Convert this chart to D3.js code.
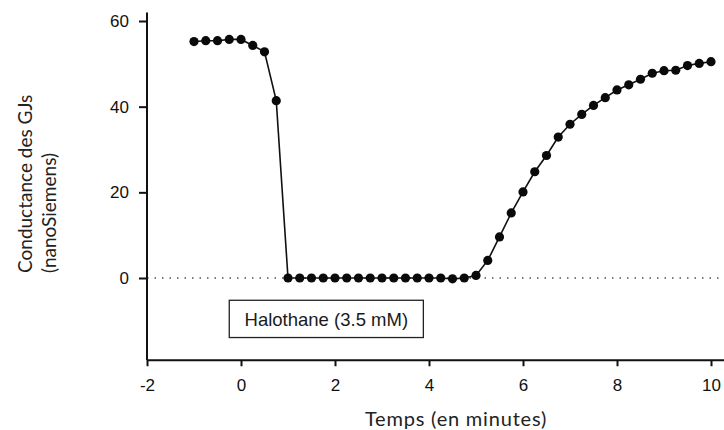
<!DOCTYPE html>
<html>
<head>
<meta charset="utf-8">
<script src="https://cdn.jsdelivr.net/npm/d3@7"></script>
<style>
  body { margin: 0; background: #fff; }
  svg { display: block; }
</style>
</head>
<body>
<script>
const width = 724;
const height = 430;

// temps en minutes, pas de 0.25 min
const times = d3.range(45).map(i => -1 + i * 0.25);
// conductance (nS)
const conductance = [
  55.2, 55.4, 55.4, 55.7, 55.7, 54.3, 52.8, 41.4,
  0, 0, 0, 0, 0, 0, 0, 0, 0, 0, 0, 0, 0, 0, -0.2, 0,
  0.6, 4.1, 9.6, 15.2, 20.1, 24.8, 28.6, 32.9, 35.9, 38.2, 40.3,
  42.1, 43.9, 45.1, 46.4, 47.8, 48.4, 48.5, 49.6, 50.1, 50.5
];
const xTicks = [-2, 0, 2, 4, 6, 8, 10];
const yTicks = [0, 20, 40, 60];
const drugLabel = "Halothane (3.5 mM)";
const drugBox = [-0.25, 3.88, -5.2, -13.9]; // x0, x1, y0, y1 (unités des données)

const svg = d3.select("body").append("svg")
  .attr("width", width)
  .attr("height", height);

const x = d3.scaleLinear().domain([-2, 10]).range([147, 711]);
const y = d3.scaleLinear().domain([0, 60]).range([278, 21]);

// ligne pointillée à zéro
svg.append("line")
  .attr("x1", x(-2)).attr("x2", width)
  .attr("y1", y(0)).attr("y2", y(0))
  .attr("stroke", "#555")
  .attr("stroke-width", 1.3)
  .attr("stroke-dasharray", "1.5,6");

// axe x
const xAxis = svg.append("g")
  .attr("transform", `translate(0, ${y(-19.2)})`)
  .call(d3.axisBottom(x).tickValues(xTicks).tickSize(6).tickPadding(13).tickFormat(d => String(d)));
xAxis.select(".domain").attr("d", `M${x(-2)},0H${width}`).attr("stroke", "#111").attr("stroke-width", 2);

// axe y
const yAxis = svg.append("g")
  .attr("transform", `translate(${x(-2)}, 0)`)
  .call(d3.axisLeft(y).tickValues(yTicks).tickSize(8).tickPadding(10));
yAxis.select(".domain").attr("d", `M0,${y(62)}V${y(-19.2)}`).attr("stroke", "#111").attr("stroke-width", 2);

svg.selectAll(".tick line").attr("stroke", "#111").attr("stroke-width", 2);
svg.selectAll(".tick text")
  .attr("font-family", "Liberation Sans, Arial, sans-serif")
  .attr("font-size", 17)
  .attr("fill", "#111");

// courbe
const line = d3.line()
  .x((d, i) => x(times[i]))
  .y(d => y(d));

svg.append("path")
  .datum(conductance)
  .attr("fill", "none")
  .attr("stroke", "#111")
  .attr("stroke-width", 1.6)
  .attr("d", line);

svg.selectAll("circle")
  .data(conductance)
  .join("circle")
  .attr("cx", (d, i) => x(times[i]))
  .attr("cy", d => y(d))
  .attr("r", 4.6)
  .attr("fill", "#0a0a0a");

// boîte halothane
svg.append("rect")
  .attr("x", x(drugBox[0]))
  .attr("y", y(drugBox[2]))
  .attr("width", x(drugBox[1]) - x(drugBox[0]))
  .attr("height", y(drugBox[3]) - y(drugBox[2]))
  .attr("fill", "#fff")
  .attr("stroke", "#222")
  .attr("stroke-width", 1.3);

svg.append("text")
  .attr("x", (x(drugBox[0]) + x(drugBox[1])) / 2)
  .attr("y", (y(drugBox[2]) + y(drugBox[3])) / 2)
  .attr("dy", "0.36em")
  .attr("text-anchor", "middle")
  .attr("font-family", "Liberation Sans, Arial, sans-serif")
  .attr("font-size", 18.5)
  .attr("fill", "#1a1a1a")
  .text(drugLabel);

// titres des axes
svg.append("text")
  .attr("x", 456)
  .attr("y", 419)
  .attr("dy", "0.35em")
  .attr("text-anchor", "middle")
  .attr("font-family", "Lato, sans-serif")
  .attr("font-size", 20)
  .attr("letter-spacing", 0.8)
  .attr("fill", "#222")
  .text("Temps (en minutes)");

const yLabel = svg.append("text")
  .attr("transform", "translate(0, 273) rotate(-90)")
  .attr("font-family", "Lato, sans-serif")
  .attr("font-size", 19)
  .attr("fill", "#222");
yLabel.append("tspan").attr("x", 0).attr("y", 32).text("Conductance des GJs");
yLabel.append("tspan").attr("x", 0).attr("y", 56).text("(nanoSiemens)");
</script>
</body>
</html>
